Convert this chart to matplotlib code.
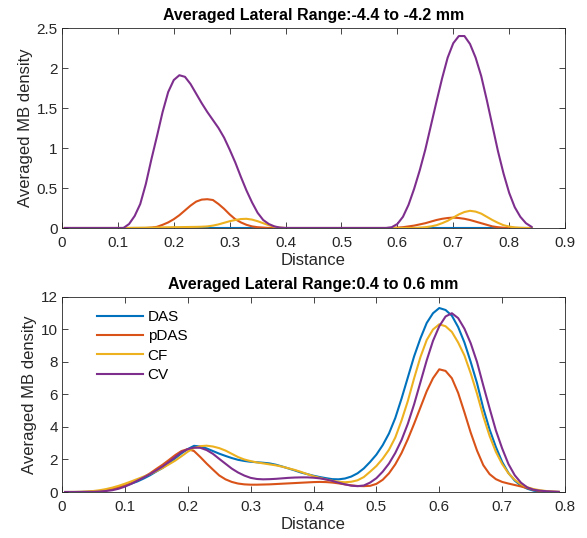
"""Averaged MB density profiles for two lateral ranges (DAS / pDAS / CF / CV)."""
import matplotlib
matplotlib.use("Agg")
import matplotlib.pyplot as plt
from matplotlib.ticker import FormatStrFormatter

plt.rcParams["font.family"] = ["Liberation Sans", "DejaVu Sans"]

labels = ["DAS", "pDAS", "CF", "CV"]
colors = ["#0072BD", "#D95319", "#EDB120", "#7E2F8E"]

# --- top panel: lateral range -4.4 to -4.2 mm ---
x_top = [0.005, 0.05, 0.10, 0.11, 0.12, 0.13, 0.14, 0.15, 0.16, 0.17, 0.18, 0.19,
         0.20, 0.21, 0.22, 0.23, 0.24, 0.25, 0.26, 0.27, 0.28, 0.29, 0.30, 0.31,
         0.32, 0.33, 0.34, 0.35, 0.36, 0.37, 0.38, 0.39, 0.40, 0.45, 0.50, 0.55,
         0.58, 0.59, 0.60, 0.61, 0.62, 0.63, 0.64, 0.65, 0.66, 0.67, 0.68, 0.69,
         0.70, 0.71, 0.72, 0.73, 0.74, 0.75, 0.76, 0.77, 0.78, 0.79, 0.80, 0.81,
         0.82, 0.83, 0.84]
das_top = [0.0] * len(x_top)
pdas_top = [0, 0, 0, 0, 0, 0, 0, 0, 0.005, 0.015, 0.04, 0.07,
            0.11, 0.16, 0.22, 0.28, 0.33, 0.355, 0.36, 0.35, 0.30, 0.24, 0.17, 0.11,
            0.07, 0.04, 0.02, 0.01, 0.005, 0, 0, 0, 0, 0, 0, 0,
            0, 0, 0.005, 0.01, 0.02, 0.03, 0.045, 0.06, 0.08, 0.10, 0.115, 0.125,
            0.13, 0.125, 0.115, 0.10, 0.08, 0.06, 0.04, 0.02, 0.01, 0.003, 0, 0,
            0, 0, 0]
cf_top = [0, 0, 0, 0, 0.001, 0.002, 0.003, 0.004, 0.005, 0.006, 0.008, 0.009,
          0.01, 0.011, 0.012, 0.013, 0.014, 0.016, 0.02, 0.03, 0.045, 0.065, 0.085, 0.10,
          0.112, 0.115, 0.105, 0.085, 0.06, 0.035, 0.015, 0.005, 0, 0, 0, 0,
          0, 0, 0, 0, 0, 0, 0.005, 0.01, 0.02, 0.035, 0.06, 0.09,
          0.13, 0.17, 0.20, 0.215, 0.205, 0.18, 0.14, 0.10, 0.065, 0.035, 0.018, 0.008,
          0.003, 0, 0]
cv_top = [0, 0, 0, 0, 0.05, 0.15, 0.30, 0.55, 0.86, 1.15, 1.45, 1.70,
          1.85, 1.91, 1.89, 1.80, 1.68, 1.56, 1.45, 1.35, 1.25, 1.13, 0.98, 0.82,
          0.64, 0.47, 0.32, 0.19, 0.10, 0.05, 0.02, 0.005, 0, 0, 0, 0,
          0, 0.01, 0.05, 0.14, 0.29, 0.49, 0.72, 0.98, 1.28, 1.58, 1.87, 2.13,
          2.31, 2.40, 2.40, 2.30, 2.13, 1.90, 1.60, 1.28, 0.96, 0.68, 0.44, 0.26,
          0.14, 0.06, 0.015]

# --- bottom panel: lateral range 0.4 to 0.6 mm ---
x_bot = [0.005, 0.02, 0.03, 0.04, 0.05, 0.06, 0.07, 0.08, 0.09, 0.10,
         0.11, 0.12, 0.13, 0.14, 0.15, 0.16, 0.17, 0.18, 0.19, 0.20,
         0.21, 0.22, 0.23, 0.24, 0.25, 0.26, 0.27, 0.28, 0.29, 0.30,
         0.31, 0.32, 0.33, 0.34, 0.35, 0.36, 0.37, 0.38, 0.39, 0.40,
         0.41, 0.42, 0.43, 0.44, 0.45, 0.46, 0.47, 0.48, 0.49, 0.50,
         0.51, 0.52, 0.53, 0.54, 0.55, 0.56, 0.57, 0.58, 0.59, 0.60,
         0.61, 0.62, 0.63, 0.64, 0.65, 0.66, 0.67, 0.68, 0.69, 0.70,
         0.71, 0.72, 0.73, 0.74, 0.75, 0.76, 0.77, 0.78, 0.79]
das_bot = [0, 0, 0.005, 0.01, 0.02, 0.06, 0.11, 0.18, 0.27, 0.38,
           0.51, 0.65, 0.83, 1.03, 1.26, 1.48, 1.76, 2.07, 2.38, 2.64,
           2.84, 2.80, 2.68, 2.52, 2.36, 2.22, 2.09, 1.98, 1.91, 1.86,
           1.83, 1.80, 1.76, 1.68, 1.57, 1.45, 1.33, 1.20, 1.10, 1.00,
           0.92, 0.85, 0.79, 0.78, 0.83, 0.95, 1.15, 1.45, 1.85, 2.30,
           2.88, 3.60, 4.55, 5.75, 7.05, 8.35, 9.45, 10.40, 11.00, 11.32,
           11.20, 10.85, 10.15, 9.20, 8.00, 6.70, 5.15, 3.85, 2.77, 1.85,
           1.17, 0.70, 0.39, 0.20, 0.08, 0.02, 0, 0, 0]
pdas_bot = [0, 0, 0.005, 0.01, 0.03, 0.06, 0.11, 0.18, 0.28, 0.40,
            0.55, 0.72, 0.92, 1.15, 1.42, 1.68, 1.97, 2.27, 2.52, 2.64,
            2.52, 2.15, 1.75, 1.38, 1.02, 0.78, 0.62, 0.52, 0.47, 0.45,
            0.45, 0.46, 0.47, 0.49, 0.51, 0.53, 0.55, 0.57, 0.59, 0.61,
            0.62, 0.61, 0.58, 0.53, 0.47, 0.41, 0.37, 0.36, 0.38, 0.50,
            0.75, 1.15, 1.70, 2.40, 3.25, 4.20, 5.20, 6.20, 7.00, 7.55,
            7.45, 7.00, 6.10, 4.90, 3.65, 2.55, 1.65, 1.10, 0.79, 0.62,
            0.52, 0.43, 0.34, 0.24, 0.13, 0.06, 0.02, 0.005, 0]
cf_bot = [0, 0.005, 0.01, 0.03, 0.06, 0.11, 0.18, 0.27, 0.38, 0.51,
          0.65, 0.80, 0.95, 1.10, 1.28, 1.48, 1.70, 1.93, 2.20, 2.48,
          2.70, 2.82, 2.85, 2.80, 2.70, 2.55, 2.35, 2.15, 2.00, 1.90,
          1.82, 1.76, 1.70, 1.64, 1.56, 1.46, 1.36, 1.24, 1.10, 0.97,
          0.87, 0.77, 0.69, 0.63, 0.60, 0.63, 0.72, 0.92, 1.25, 1.60,
          2.05, 2.60, 3.35, 4.40, 5.60, 7.00, 8.30, 9.35, 10.00, 10.32,
          10.20, 9.85, 9.20, 8.40, 7.30, 6.05, 4.65, 3.45, 2.47, 1.72,
          1.15, 0.75, 0.47, 0.29, 0.18, 0.11, 0.06, 0.03, 0.01]
cv_bot = [0, 0, 0, 0.005, 0.01, 0.03, 0.06, 0.11, 0.20, 0.33,
          0.50, 0.70, 0.90, 1.10, 1.33, 1.57, 1.85, 2.15, 2.45, 2.64,
          2.73, 2.72, 2.58, 2.35, 2.04, 1.74, 1.44, 1.20, 1.01, 0.87,
          0.80, 0.78, 0.79, 0.81, 0.84, 0.87, 0.89, 0.90, 0.90, 0.88,
          0.84, 0.77, 0.68, 0.57, 0.47, 0.39, 0.36, 0.40, 0.58, 0.85,
          1.25, 1.75, 2.40, 3.20, 4.20, 5.40, 6.75, 8.10, 9.30, 10.20,
          10.80, 11.00, 10.70, 10.05, 9.15, 8.00, 6.55, 5.15, 3.79, 2.68,
          1.72, 1.03, 0.57, 0.28, 0.14, 0.08, 0.05, 0.03, 0.01]

panels = [
    {"title": "Averaged Lateral Range:-4.4 to -4.2 mm", "x": x_top,
     "series": [das_top, pdas_top, cf_top, cv_top],
     "xlim": (0, 0.9), "xticks": [0, 0.1, 0.2, 0.3, 0.4, 0.5, 0.6, 0.7, 0.8, 0.9],
     "ylim": (0, 2.5), "yticks": [0, 0.5, 1, 1.5, 2, 2.5],
     "rect": [0.1056, 0.5762, 0.857, 0.3717], "legend": False},
    {"title": "Averaged Lateral Range:0.4 to 0.6 mm", "x": x_bot,
     "series": [das_bot, pdas_bot, cf_bot, cv_bot],
     "xlim": (0, 0.8), "xticks": [0, 0.1, 0.2, 0.3, 0.4, 0.5, 0.6, 0.7, 0.8],
     "ylim": (0, 12), "yticks": [0, 2, 4, 6, 8, 10, 12],
     "rect": [0.1056, 0.0855, 0.857, 0.3625], "legend": True},
]

fig = plt.figure(figsize=(5.87, 5.38), dpi=100)
axis_grey = "#262626"

for p in panels:
    ax = fig.add_axes(p["rect"])
    for ys, lab, col in zip(p["series"], labels, colors):
        ax.plot(p["x"], ys, color=col, lw=1.5, label=lab)
    ax.set_xlim(*p["xlim"])
    ax.set_ylim(*p["ylim"])
    ax.set_xticks(p["xticks"])
    ax.set_yticks(p["yticks"])
    ax.xaxis.set_major_formatter(FormatStrFormatter("%g"))
    ax.yaxis.set_major_formatter(FormatStrFormatter("%g"))
    ax.tick_params(direction="in", top=True, right=True, length=4, width=0.6,
                   colors=axis_grey, labelsize=11, pad=3)
    ax.tick_params(axis="x", pad=6)
    for sp in ax.spines.values():
        sp.set_color(axis_grey)
        sp.set_linewidth(0.6)
    ax.set_title(p["title"], fontsize=11.5, fontweight="bold", pad=6)
    ax.set_xlabel("Distance", fontsize=12, color=axis_grey, labelpad=2)
    ax.set_ylabel("Averaged MB density", fontsize=12, color=axis_grey, labelpad=3)
    if p["legend"]:
        ax.legend(loc="upper left", bbox_to_anchor=(0.058, 0.965), frameon=False,
                  fontsize=11, handlelength=3.0, handletextpad=0.3,
                  labelspacing=0.35, borderaxespad=0)

fig.savefig("out.png", dpi=100)
